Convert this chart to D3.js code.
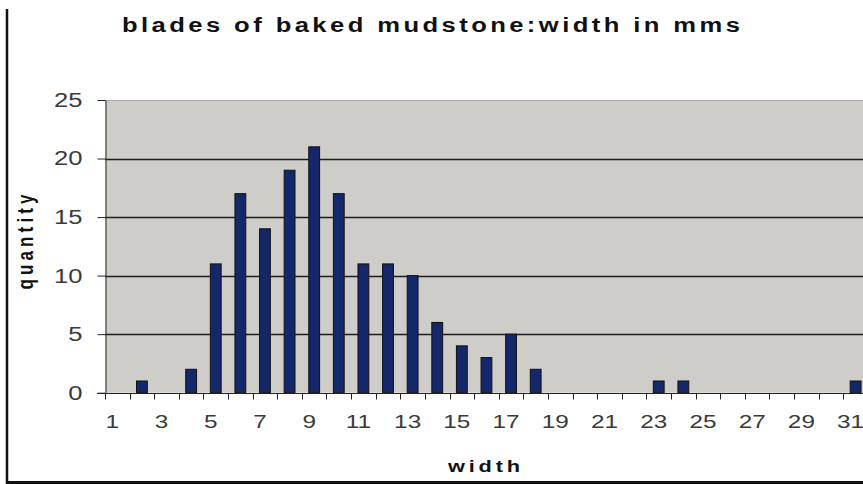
<!DOCTYPE html>
<html>
<head>
<meta charset="utf-8">
<script src="https://cdn.jsdelivr.net/npm/d3@7"></script>
<style>
  html, body { margin: 0; padding: 0; background: #fff; }
  svg { display: block; font-family: "Liberation Sans", Arial, sans-serif; }
</style>
</head>
<body>
<div id="chart"></div>
<script>
// categories (width in mm) and counts
const widths = d3.range(1, 32);
const counts = [0, 1, 0, 2, 11, 17, 14, 19, 21, 17, 11, 11, 10, 6, 4, 3, 5, 2,
                0, 0, 0, 0, 1, 1, 0, 0, 0, 0, 0, 0, 1];
const yTicks = [0, 5, 10, 15, 20, 25];

const data = widths.map((w, i) => ({ w, n: counts[i] }));

const W = 863, H = 484;
const m = { top: 100, left: 105, bottom: 91 };
const bandW = 24.61;
const sx = 1.28; // the original picture is stretched sideways
const font = "Liberation Sans, Arial, sans-serif";

const svg = d3.select("#chart").append("svg")
  .attr("width", W).attr("height", H);

const x = d3.scaleBand()
  .domain(widths)
  .range([m.left, m.left + bandW * widths.length])
  .paddingInner(0.56)
  .paddingOuter(0.28);

const y = d3.scaleLinear()
  .domain([0, 25])
  .range([H - m.bottom - 0.3, m.top]);

// plot area
svg.append("rect")
  .attr("x", m.left).attr("y", y(25))
  .attr("width", W - m.left).attr("height", y(0) - y(25))
  .attr("fill", "#cfcdc9");

// gridlines
svg.append("g")
  .selectAll("line")
  .data(yTicks.filter(d => d > 0))
  .join("line")
  .attr("x1", m.left).attr("x2", W)
  .attr("y1", d => Math.round(y(d)) + 0.5).attr("y2", d => Math.round(y(d)) + 0.5)
  .attr("stroke", d => d === 25 ? "#a9a8a5" : "#1e1e1e")
  .attr("stroke-width", d => d === 25 ? 1 : 1.3);

// bars
svg.append("g")
  .selectAll("rect")
  .data(data.filter(d => d.n > 0))
  .join("rect")
  .attr("x", d => x(d.w))
  .attr("y", d => y(d.n))
  .attr("width", x.bandwidth())
  .attr("height", d => y(0) - y(d.n))
  .attr("fill", "#15276b")
  .attr("stroke", "#111")
  .attr("stroke-width", 1);

// y axis
const yAxis = svg.append("g")
  .attr("transform", `translate(${m.left + 0.5},0)`)
  .call(d3.axisLeft(y).tickValues(yTicks).tickSize(8).tickPadding(14).tickSizeOuter(0));
yAxis.select(".domain").attr("stroke", "#333");
yAxis.selectAll(".tick line").attr("stroke", "#222");
yAxis.selectAll("text")
  .attr("font-size", 20)
  .attr("fill", "#3a3a3a")
  .attr("font-family", font)
  .attr("x", -23 / sx)
  .attr("transform", `scale(${sx},1)`);

// x axis: boundary ticks + odd labels
const y0 = Math.round(y(0)) + 0.5;
svg.append("line")
  .attr("x1", m.left - 8).attr("x2", W)
  .attr("y1", y0).attr("y2", y0)
  .attr("stroke", "#222");

const bounds = d3.range(widths.length).map(i => m.left + i * bandW);
svg.append("g")
  .selectAll("line")
  .data(bounds)
  .join("line")
  .attr("x1", d => Math.round(d) + 0.5).attr("x2", d => Math.round(d) + 0.5)
  .attr("y1", y0).attr("y2", y0 + 6)
  .attr("stroke", "#222");

const xAxis = svg.append("g")
  .attr("transform", `translate(-5,${y0})`)
  .call(d3.axisBottom(x).tickSize(0).tickPadding(21)
    .tickFormat(d => d % 2 === 1 ? d : ""));
xAxis.select(".domain").remove();
xAxis.selectAll("text")
  .attr("font-size", 19)
  .attr("fill", "#3a3a3a")
  .attr("font-family", font)
  .attr("transform", `scale(${sx},1)`);

// titles
svg.append("text")
  .attr("transform", `translate(122,32) scale(${sx},1)`)
  .attr("font-size", 20).attr("font-weight", "bold")
  .attr("font-family", font)
  .attr("textLength", 618 / sx).attr("lengthAdjust", "spacing")
  .attr("fill", "#111")
  .text("blades of baked mudstone:width in mms");

svg.append("text")
  .attr("transform", `translate(33,242) rotate(-90) scale(1,${sx})`)
  .attr("text-anchor", "middle")
  .attr("font-size", 17).attr("font-weight", "bold")
  .attr("font-family", font)
  .attr("textLength", 95).attr("lengthAdjust", "spacing")
  .attr("fill", "#111")
  .text("quantity");

svg.append("text")
  .attr("transform", `translate(448,472) scale(${sx},1)`)
  .attr("font-size", 17).attr("font-weight", "bold")
  .attr("font-family", font)
  .attr("textLength", 72 / sx).attr("lengthAdjust", "spacing")
  .attr("fill", "#111")
  .text("width");

// outer frame (left and bottom edges visible)
svg.append("line")
  .attr("x1", 7).attr("x2", 7).attr("y1", 9).attr("y2", H)
  .attr("stroke", "#111").attr("stroke-width", 2.5);
svg.append("line")
  .attr("x1", 6).attr("x2", W).attr("y1", 482.5).attr("y2", 482.5)
  .attr("stroke", "#111").attr("stroke-width", 3);
</script>
</body>
</html>
